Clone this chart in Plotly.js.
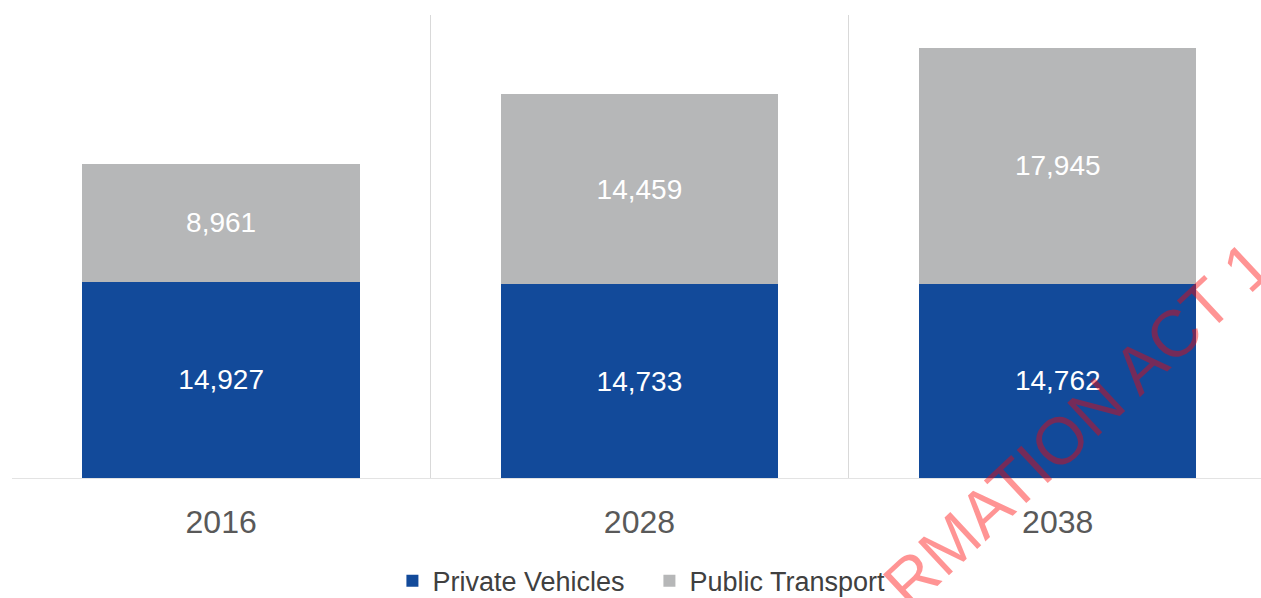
<!DOCTYPE html>
<html>
<head>
<meta charset="utf-8">
<script src="https://cdn.plot.ly/plotly-3.0.1.min.js"></script>
<style>html,body{margin:0;padding:0;background:#fff;}#chart{width:1261px;height:598px;}</style>
</head>
<body>
<div id="chart"></div>
<script>
const years = ['2016', '2028', '2038'];
const privateVehicles = [14927, 14733, 14762];
const publicTransport = [8961, 14459, 17945];
const seriesNames = ['Private Vehicles', 'Public Transport'];
const watermarkText = 'RMATION ACT 1';

const traces = [
  {
    type: 'bar', name: seriesNames[0], x: years, y: privateVehicles,
    marker: {color: '#124a9a'},
    texttemplate: '%{y:,}', textposition: 'inside', insidetextanchor: 'middle',
    textangle: 0, constraintext: 'none',
    textfont: {family: 'Liberation Sans, Arial, sans-serif', size: 28, color: '#ffffff'},
    hoverinfo: 'none'
  },
  {
    type: 'bar', name: seriesNames[1], x: years, y: publicTransport,
    marker: {color: '#b6b7b8'},
    texttemplate: '%{y:,}', textposition: 'inside', insidetextanchor: 'middle',
    textangle: 0, constraintext: 'none',
    textfont: {family: 'Liberation Sans, Arial, sans-serif', size: 28, color: '#ffffff'},
    hoverinfo: 'none'
  }
];

const layout = {
  width: 1261, height: 598,
  margin: {l: 12, r: 0, t: 15, b: 120, autoexpand: false},
  paper_bgcolor: '#ffffff', plot_bgcolor: '#ffffff',
  barmode: 'stack', bargap: 0.337,
  font: {family: 'Liberation Sans, Arial, sans-serif'},
  showlegend: true,
  legend: {
    orientation: 'h', xref: 'container', yref: 'container',
    x: 0.515, xanchor: 'center', y: 0.028, yanchor: 'middle',
    traceorder: 'normal',
    font: {size: 27, color: '#404040'},
    itemwidth: 30, entrywidth: 212
  },
  xaxis: {
    type: 'category', range: [-0.5, 2.486],
    tickson: 'boundaries', showgrid: true, gridcolor: '#d9d9d9', gridwidth: 1,
    showline: true, linecolor: '#e3e3e3', linewidth: 1,
    ticks: '', ticklabelstandoff: 16,
    tickfont: {size: 32, color: '#595959'},
    zeroline: false, fixedrange: true
  },
  yaxis: {
    range: [0, 35200], showgrid: false, zeroline: false,
    showticklabels: false, showline: false, fixedrange: true
  },
  annotations: [
    {
      xref: 'paper', yref: 'paper', x: 0.853, y: 0.117,
      text: watermarkText, showarrow: false, textangle: -43,
      font: {family: 'Liberation Sans, Arial, sans-serif', size: 66, color: 'rgba(255,0,0,0.42)'},
      xanchor: 'center', yanchor: 'middle'
    }
  ]
};

Plotly.newPlot('chart', traces, layout, {displayModeBar: false, staticPlot: true});
</script>
</body>
</html>
